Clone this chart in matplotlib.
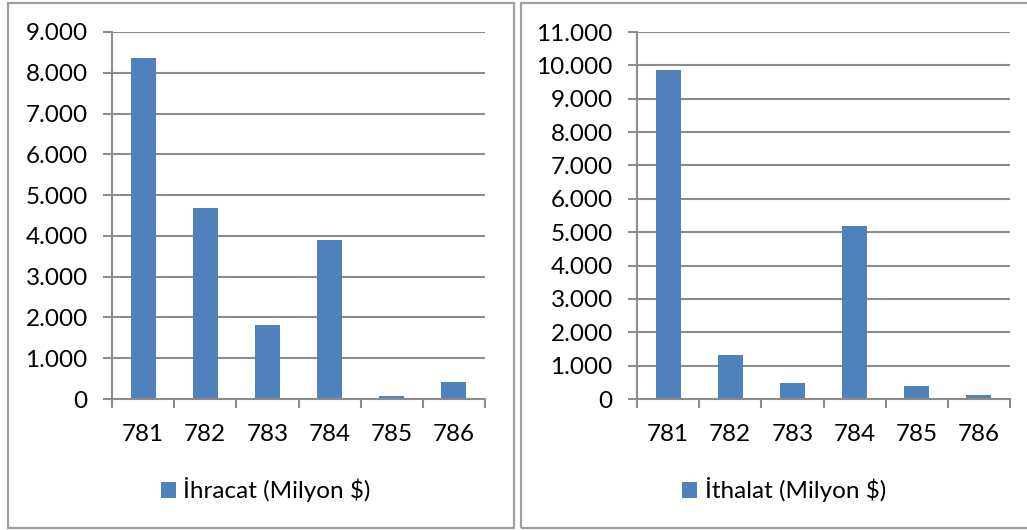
import matplotlib
matplotlib.use("Agg")
import matplotlib.pyplot as plt
from matplotlib.ticker import FuncFormatter, FixedLocator
from matplotlib.patches import Rectangle, Patch

categories = ["781", "782", "783", "784", "785", "786"]
ihracat = [8360, 4680, 1820, 3910, 70, 420]
ithalat = [9850, 1320, 470, 5190, 400, 130]

ihracat_ticks = list(range(0, 9001, 1000))
ithalat_ticks = list(range(0, 11001, 1000))

BAR_COLOR = "#4F81BD"
GRID_COLOR = "#8C8C8C"
FRAME_COLOR = "#9E9E9E"
FONT = "Lato"
FS = 17.5

W, H = 1027, 530
fig = plt.figure(figsize=(W / 100, H / 100), dpi=100)
fig.patch.set_facecolor("white")


def px_axes(x0, y_top, x1, y_bottom):
    return fig.add_axes([x0 / W, 1 - y_bottom / H, (x1 - x0) / W, (y_bottom - y_top) / H])


def tr_fmt(v, _pos):
    return f"{int(round(v)):,}".replace(",", ".")


def draw_panel(ax, values, yticks, label, legend_center):
    xs = range(len(categories))
    ax.bar(xs, values, width=0.4, color=BAR_COLOR, zorder=3)
    ax.set_xlim(-0.5, len(categories) - 0.5)
    ax.set_ylim(0, yticks[-1])

    ax.yaxis.set_major_locator(FixedLocator(yticks))
    ax.yaxis.set_major_formatter(FuncFormatter(tr_fmt))
    ax.grid(axis="y", color=GRID_COLOR, linewidth=1.5, zorder=0)

    ax.xaxis.set_major_locator(FixedLocator([i - 0.5 for i in range(len(categories) + 1)]))
    ax.xaxis.set_major_formatter(FuncFormatter(lambda v, p: ""))
    ax.xaxis.set_minor_locator(FixedLocator(list(xs)))
    ax.set_xticks(list(xs), categories, minor=True)

    ax.tick_params(axis="x", which="major", length=6.5, width=1.5, color=GRID_COLOR, direction="out")
    ax.tick_params(axis="x", which="minor", length=0, pad=18, labelsize=FS)
    ax.tick_params(axis="y", which="major", length=6.5, width=1.5, color=GRID_COLOR, pad=11, labelsize=FS)
    for t in ax.get_xticklabels(minor=True) + ax.get_yticklabels():
        t.set_fontfamily(FONT)
        t.set_color("#000000")

    for side in ("top", "right"):
        ax.spines[side].set_visible(False)
    for side in ("left", "bottom"):
        ax.spines[side].set_color(GRID_COLOR)
        ax.spines[side].set_linewidth(1.5)
        ax.spines[side].set_zorder(4)

    handle = Patch(facecolor=BAR_COLOR, edgecolor="none")
    fig.legend(handles=[handle], labels=[label], loc="center",
               bbox_to_anchor=(legend_center[0] / W, 1 - legend_center[1] / H),
               frameon=False, handlelength=0.62, handleheight=0.62, handletextpad=0.3,
               prop={"family": FONT, "size": FS})


# outer chart frames
for x0, x1 in ((8, 514), (521, 1034)):
    fig.add_artist(Rectangle((x0 / W, 1 - 528 / H), (x1 - x0) / W, (528 - 3) / H,
                             transform=fig.transFigure, fill=False,
                             edgecolor=FRAME_COLOR, linewidth=1.6))

ax1 = px_axes(112, 32, 485, 399)
draw_panel(ax1, ihracat, ihracat_ticks, "İhracat (Milyon $)", (266, 490))

ax2 = px_axes(637, 32, 1010, 399)
draw_panel(ax2, ithalat, ithalat_ticks, "İthalat (Milyon $)", (784, 490))

fig.savefig("out.png", dpi=100, facecolor="white")
